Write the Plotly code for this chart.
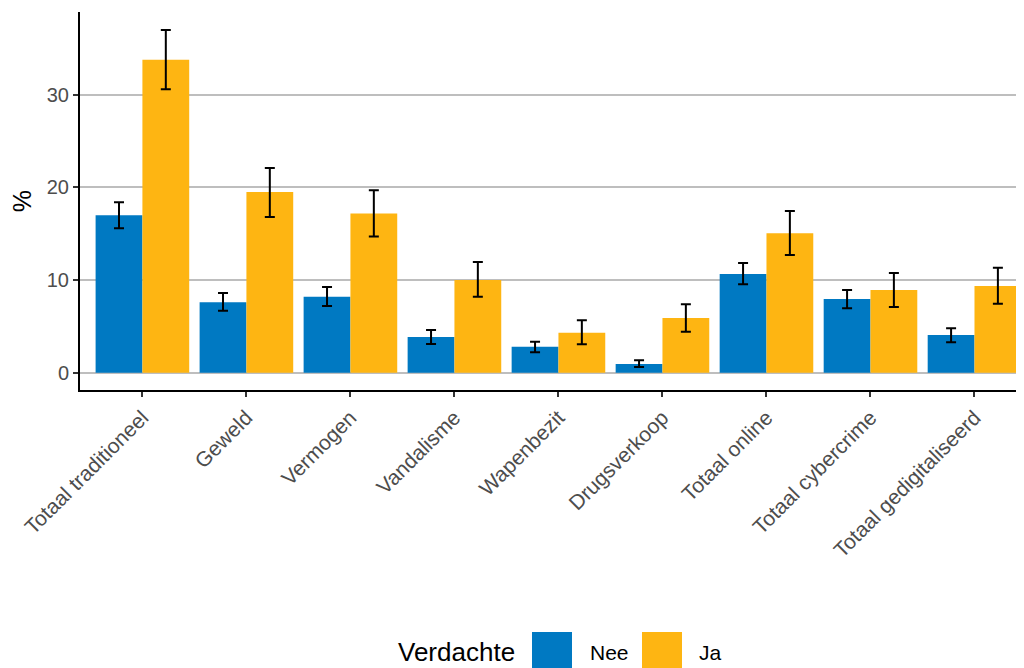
import plotly.graph_objects as go

categories = ["Totaal traditioneel", "Geweld", "Vermogen", "Vandalisme", "Wapenbezit",
              "Drugsverkoop", "Totaal online", "Totaal cybercrime", "Totaal gedigitaliseerd"]

nee_values = [17.0, 7.6, 8.2, 3.85, 2.8, 0.94, 10.66, 7.96, 4.07]
nee_upper = [18.4, 8.6, 9.25, 4.6, 3.35, 1.34, 11.85, 8.93, 4.8]
nee_lower = [15.6, 6.7, 7.2, 3.1, 2.2, 0.62, 9.55, 6.95, 3.28]

ja_values = [33.8, 19.5, 17.2, 10.0, 4.3, 5.9, 15.05, 8.93, 9.36]
ja_upper = [37.0, 22.1, 19.7, 11.95, 5.65, 7.4, 17.46, 10.77, 11.34]
ja_lower = [30.6, 16.8, 14.7, 8.2, 3.07, 4.43, 12.7, 7.1, 7.45]

y_ticks = [0, 10, 20, 30]
series_names = ["Nee", "Ja"]
colors = ["#0079C2", "#FEB512"]
legend_title = "Verdachte"

# page is rendered with an 8px body margin
OFF = 8
W, H = 1024 - OFF, 668 - OFF
PLOT_LEFT, PLOT_TOP, PLOT_BOTTOM = 80, 12, 390  # page pixels
L = PLOT_LEFT - OFF
T = PLOT_TOP - OFF
B = (OFF + H) - PLOT_BOTTOM
R = 0


def err(vals, up, lo):
    return dict(type="data", symmetric=False,
                array=[u - v for u, v in zip(up, vals)],
                arrayminus=[v - l for v, l in zip(vals, lo)],
                color="black", thickness=2, width=5)


fig = go.Figure()
fig.add_trace(go.Bar(x=categories, y=nee_values, name=series_names[0],
                     marker=dict(color=colors[0], line=dict(width=0)),
                     error_y=err(nee_values, nee_upper, nee_lower), showlegend=False))
fig.add_trace(go.Bar(x=categories, y=ja_values, name=series_names[1],
                     marker=dict(color=colors[1], line=dict(width=0)),
                     error_y=err(ja_values, ja_upper, ja_lower), showlegend=False))

font_family = "Liberation Sans, Arial, sans-serif"

fig.update_layout(
    width=W, height=H,
    margin=dict(l=L, r=R, t=T, b=B, pad=0),
    paper_bgcolor="white", plot_bgcolor="white",
    barmode="group", bargap=0.1, bargroupgap=0,
    font=dict(family=font_family, color="#4D4D4D"),
    xaxis=dict(type="category", range=[-0.6, 8.476], showgrid=False,
               showline=True, linecolor="black", linewidth=2,
               ticks="outside", ticklen=5, tickwidth=1.5, tickcolor="#333333",
               tickangle=-45, tickfont=dict(size=21, color="#4D4D4D"),
               zeroline=False),
    yaxis=dict(range=[-1.87, 38.95], tickvals=y_ticks, ticktext=[str(v) for v in y_ticks],
               showgrid=True, gridcolor="#BEBEBE", gridwidth=1.6,
               showline=True, linecolor="black", linewidth=2,
               ticks="outside", ticklen=5, tickwidth=1.5, tickcolor="#333333",
               tickfont=dict(size=20, color="#4D4D4D"), zeroline=False,
               title=dict(text="%", font=dict(size=25, color="black"), standoff=14)),
)


def px_x(px):
    return (px - OFF - L) / (W - L - R)


def px_y(py):
    return (OFF + H - B - py) / (H - B - T)


fig.add_annotation(text=legend_title, xref="paper", yref="paper",
                   x=px_x(517), y=px_y(652), xanchor="right", yanchor="middle",
                   showarrow=False, font=dict(size=26, color="black", family=font_family))
key_x = [532, 642]
label_x = [588, 697]
for i, name in enumerate(series_names):
    fig.add_shape(type="rect", xref="paper", yref="paper",
                  x0=px_x(key_x[i]), x1=px_x(key_x[i] + 40),
                  y0=px_y(632), y1=px_y(672),
                  fillcolor=colors[i], line=dict(width=0), layer="above")
    fig.add_annotation(text=name, xref="paper", yref="paper",
                       x=px_x(label_x[i]), y=px_y(652), xanchor="left", yanchor="middle",
                       showarrow=False, font=dict(size=21, color="black", family=font_family))

fig.write_html("out.html")
